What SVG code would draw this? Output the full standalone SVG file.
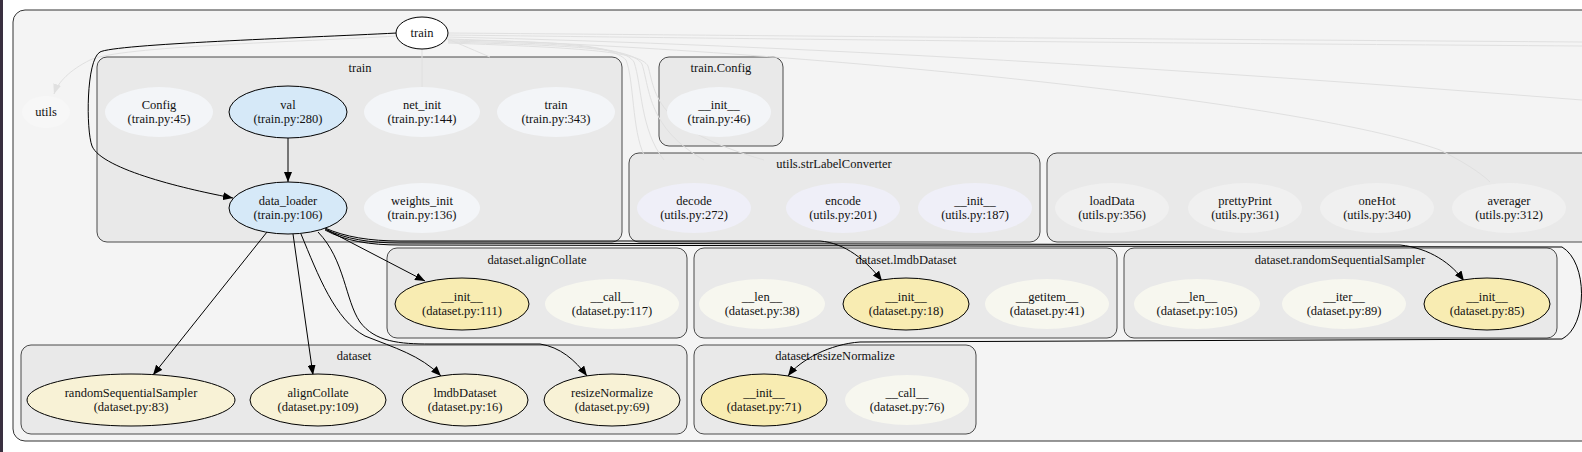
<svg xmlns="http://www.w3.org/2000/svg" width="1582" height="452" viewBox="0 0 1582 452">
<style>
text{font-family:"Liberation Serif","DejaVu Serif","Times New Roman",serif;font-size:12.5px;fill:#111;text-anchor:middle}
.cl{fill:#e9e9e9;stroke:#4a4a4a;stroke-width:1}
.e{fill:none;stroke:#000;stroke-width:1}
.f{fill:none;stroke:#e0e0e0;stroke-width:1}
.nb{fill:#d6e9f8;stroke:#000;stroke-width:1}
.ny{fill:#f8ecb2;stroke:#000;stroke-width:1}
.nc{fill:#f8f2d6;stroke:#000;stroke-width:1}
.nt{fill:#f3f5f8}
.nu{fill:#efeff8}
.ng{fill:#f0f0f0}
.nd{fill:#f7f7ef}
</style>
<defs>
<marker id="ah" viewBox="0 0 10 8" refX="10" refY="4" markerWidth="10" markerHeight="8" markerUnits="userSpaceOnUse" orient="auto">
<path d="M0,0 L10,4 L0,8 z" fill="#000"/>
</marker>
<marker id="ahf" viewBox="0 0 10 8" refX="10" refY="4" markerWidth="10" markerHeight="8" markerUnits="userSpaceOnUse" orient="auto">
<path d="M0,0 L10,4 L0,8 z" fill="#e0e0e0"/>
</marker>
</defs>
<rect x="0" y="0" width="1582" height="452" fill="#ffffff"/>
<rect x="0" y="0" width="3" height="452" fill="#3a3040"/>
<rect x="13" y="10" width="1600" height="431" rx="12" fill="#f4f4f4" stroke="#333" stroke-width="1"/>

<g id="clusters">
<g id="cluster-train"><rect class="cl" x="97" y="57" width="525" height="185" rx="10"/><text x="360" y="72">train</text></g>
<g id="cluster-train-Config"><rect class="cl" x="659" y="57" width="124" height="89" rx="10"/><text x="721" y="72">train.Config</text></g>
<g id="cluster-utils-strLabelConverter"><rect class="cl" x="629" y="153" width="411" height="89" rx="10"/><text x="834" y="168">utils.strLabelConverter</text></g>
<g id="cluster-utils"><rect class="cl" x="1047" y="153" width="580" height="89" rx="10"/></g>
<g id="cluster-dataset-alignCollate"><rect class="cl" x="387" y="248" width="300" height="90" rx="10"/><text x="537" y="264">dataset.alignCollate</text></g>
<g id="cluster-dataset-lmdbDataset"><rect class="cl" x="694" y="248" width="423" height="90" rx="10"/><text x="906" y="264">dataset.lmdbDataset</text></g>
<g id="cluster-dataset-randomSequentialSampler"><rect class="cl" x="1124" y="248" width="433" height="90" rx="10"/><text x="1340" y="264">dataset.randomSequentialSampler</text></g>
<g id="cluster-dataset"><rect class="cl" x="21" y="345" width="666" height="89" rx="10"/><text x="354" y="360">dataset</text></g>
<g id="cluster-dataset-resizeNormalize"><rect class="cl" x="694" y="345" width="282" height="89" rx="10"/><text x="835" y="360">dataset.resizeNormalize</text></g>
</g>

<g id="connectors">
<path class="f" d="M397,36 C300,42 120,46 90,60 C70,70 58,82 54,94" marker-end="url(#ahf)"/>
<path class="f" d="M422,49 L422,87"/>
<path class="f" d="M445,38 C460,44 478,52 490,57"/>
<path class="f" d="M448,33 C700,35 1000,38 1582,42"/>
<path class="f" d="M448,35 C700,38 1000,42 1582,46"/>
<path class="f" d="M448,37 C800,45 1200,70 1582,100"/>
<path class="f" d="M448,39 C800,50 1300,100 1440,150 C1460,160 1480,172 1490,182"/>
<path class="f" d="M448,40 C560,42 610,44 626,60 C634,80 632,130 644,155"/>
<path class="f" d="M448,41 C570,44 624,46 634,62 C642,85 640,130 664,160"/>
<path class="f" d="M448,42 C580,46 632,48 642,64 C650,90 648,128 704,160"/>
<path class="f" d="M448,43 C590,48 640,52 648,66 C656,95 654,128 764,160"/>
<path class="e" d="M397,33 C300,38 115,44 100,52 C86,60 86,130 92,146 C102,170 190,190 233,198" marker-end="url(#ah)"/>
<path class="e" d="M288,138 L288,182" marker-end="url(#ah)"/>
<path class="e" d="M267,232 L153,375" marker-end="url(#ah)"/>
<path class="e" d="M293,234 L313,375" marker-end="url(#ah)"/>
<path class="e" d="M301,234 C318,275 335,320 365,336 C395,348 420,355 441,376" marker-end="url(#ah)"/>
<path class="e" d="M318,232 C345,260 345,300 360,322 C375,342 400,344 430,344 L540,344 C560,347 575,360 587,376" marker-end="url(#ah)"/>
<path class="e" d="M327,230 L425,281" marker-end="url(#ah)"/>
<path class="e" d="M325,228 C345,237 370,241 400,241 L820,241 C845,243 866,260 882,281" marker-end="url(#ah)"/>
<path class="e" d="M325,229 C345,239 370,243 400,243 L1400,245 C1430,248 1452,264 1464,281" marker-end="url(#ah)"/>
<path class="e" d="M325,230 C345,241 370,245 400,245 L1562,247 C1588,262 1588,326 1562,339 L860,342 C830,344 800,360 788,376" marker-end="url(#ah)"/>
</g>

<g id="node-train-root"><ellipse cx="422" cy="33" rx="26" ry="16" fill="#fff" stroke="#000"/><text x="422" y="37">train</text></g>
<g id="node-utils"><ellipse cx="46" cy="112" rx="24" ry="16" fill="#f7f7f7"/><text x="46" y="116">utils</text></g>

<g id="node-Config"><ellipse class="nt" cx="159" cy="112" rx="54" ry="25"/><text x="159" y="109">Config</text><text x="159" y="123">(train.py:45)</text></g>
<g id="node-val"><ellipse class="nb" cx="288" cy="112" rx="59" ry="26"/><text x="288" y="109">val</text><text x="288" y="123">(train.py:280)</text></g>
<g id="node-net_init"><ellipse class="nt" cx="422" cy="112" rx="58" ry="25"/><text x="422" y="109">net_init</text><text x="422" y="123">(train.py:144)</text></g>
<g id="node-train-train"><ellipse class="nt" cx="556" cy="112" rx="59" ry="25"/><text x="556" y="109">train</text><text x="556" y="123">(train.py:343)</text></g>
<g id="node-data_loader"><ellipse class="nb" cx="288" cy="208" rx="59" ry="26"/><text x="288" y="205">data_loader</text><text x="288" y="219">(train.py:106)</text></g>
<g id="node-weights_init"><ellipse class="nt" cx="422" cy="208" rx="58" ry="25"/><text x="422" y="205">weights_init</text><text x="422" y="219">(train.py:136)</text></g>
<g id="node-Config-init"><ellipse class="nt" cx="719" cy="112" rx="52" ry="25"/><text x="719" y="109">__init__</text><text x="719" y="123">(train.py:46)</text></g>

<g id="node-decode"><ellipse class="nu" cx="694" cy="208" rx="57" ry="25"/><text x="694" y="205">decode</text><text x="694" y="219">(utils.py:272)</text></g>
<g id="node-encode"><ellipse class="nu" cx="843" cy="208" rx="57" ry="25"/><text x="843" y="205">encode</text><text x="843" y="219">(utils.py:201)</text></g>
<g id="node-slc-init"><ellipse class="nu" cx="975" cy="208" rx="57" ry="25"/><text x="975" y="205">__init__</text><text x="975" y="219">(utils.py:187)</text></g>
<g id="node-loadData"><ellipse class="ng" cx="1112" cy="208" rx="57" ry="25"/><text x="1112" y="205">loadData</text><text x="1112" y="219">(utils.py:356)</text></g>
<g id="node-prettyPrint"><ellipse class="ng" cx="1245" cy="208" rx="57" ry="25"/><text x="1245" y="205">prettyPrint</text><text x="1245" y="219">(utils.py:361)</text></g>
<g id="node-oneHot"><ellipse class="ng" cx="1377" cy="208" rx="57" ry="25"/><text x="1377" y="205">oneHot</text><text x="1377" y="219">(utils.py:340)</text></g>
<g id="node-averager"><ellipse class="ng" cx="1509" cy="208" rx="57" ry="25"/><text x="1509" y="205">averager</text><text x="1509" y="219">(utils.py:312)</text></g>

<g id="node-ac-init"><ellipse class="ny" cx="462" cy="304" rx="67" ry="26"/><text x="462" y="301">__init__</text><text x="462" y="315">(dataset.py:111)</text></g>
<g id="node-ac-call"><ellipse class="nd" cx="612" cy="304" rx="67" ry="25"/><text x="612" y="301">__call__</text><text x="612" y="315">(dataset.py:117)</text></g>
<g id="node-lmdb-len"><ellipse class="nd" cx="762" cy="304" rx="63" ry="25"/><text x="762" y="301">__len__</text><text x="762" y="315">(dataset.py:38)</text></g>
<g id="node-lmdb-init"><ellipse class="ny" cx="906" cy="304" rx="63" ry="26"/><text x="906" y="301">__init__</text><text x="906" y="315">(dataset.py:18)</text></g>
<g id="node-lmdb-getitem"><ellipse class="nd" cx="1047" cy="304" rx="62" ry="25"/><text x="1047" y="301">__getitem__</text><text x="1047" y="315">(dataset.py:41)</text></g>
<g id="node-rss-len"><ellipse class="nd" cx="1197" cy="304" rx="63" ry="25"/><text x="1197" y="301">__len__</text><text x="1197" y="315">(dataset.py:105)</text></g>
<g id="node-rss-iter"><ellipse class="nd" cx="1344" cy="304" rx="62" ry="25"/><text x="1344" y="301">__iter__</text><text x="1344" y="315">(dataset.py:89)</text></g>
<g id="node-rss-init"><ellipse class="ny" cx="1487" cy="304" rx="63" ry="26"/><text x="1487" y="301">__init__</text><text x="1487" y="315">(dataset.py:85)</text></g>

<g id="node-randomSequentialSampler"><ellipse class="nc" cx="131" cy="400" rx="104" ry="26"/><text x="131" y="397">randomSequentialSampler</text><text x="131" y="411">(dataset.py:83)</text></g>
<g id="node-alignCollate"><ellipse class="nc" cx="318" cy="400" rx="68" ry="26"/><text x="318" y="397">alignCollate</text><text x="318" y="411">(dataset.py:109)</text></g>
<g id="node-lmdbDataset"><ellipse class="nc" cx="465" cy="400" rx="63" ry="26"/><text x="465" y="397">lmdbDataset</text><text x="465" y="411">(dataset.py:16)</text></g>
<g id="node-resizeNormalize"><ellipse class="nc" cx="612" cy="400" rx="68" ry="26"/><text x="612" y="397">resizeNormalize</text><text x="612" y="411">(dataset.py:69)</text></g>
<g id="node-rn-init"><ellipse class="ny" cx="764" cy="400" rx="63" ry="26"/><text x="764" y="397">__init__</text><text x="764" y="411">(dataset.py:71)</text></g>
<g id="node-rn-call"><ellipse class="nd" cx="907" cy="400" rx="62" ry="25"/><text x="907" y="397">__call__</text><text x="907" y="411">(dataset.py:76)</text></g>
</svg>
